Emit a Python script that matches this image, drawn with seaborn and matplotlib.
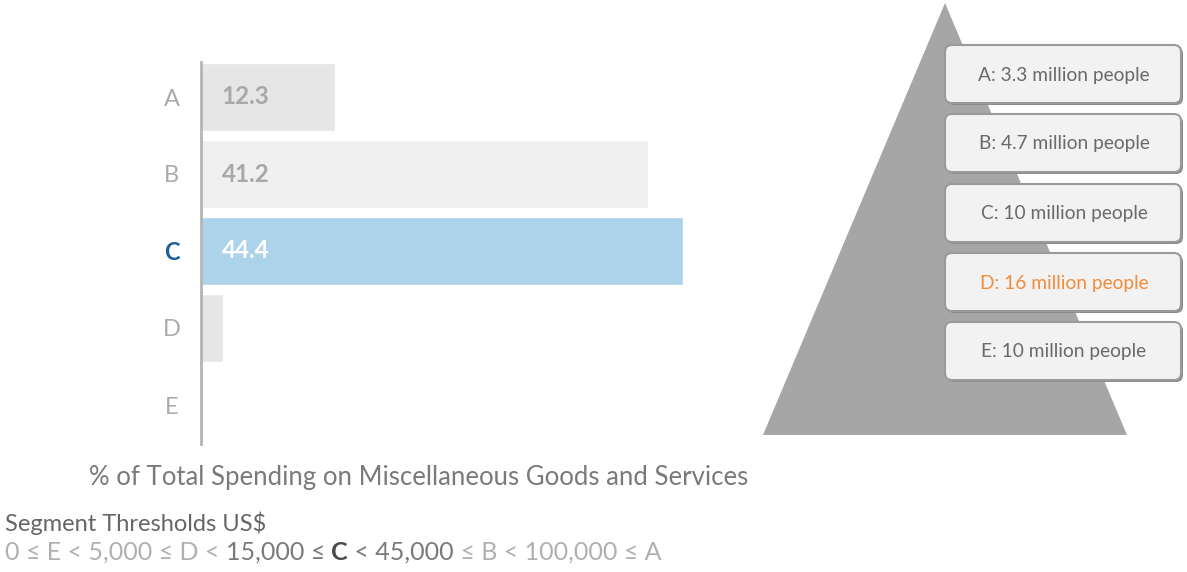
import matplotlib
matplotlib.use("Agg")
import matplotlib.pyplot as plt
import seaborn as sns
import pandas as pd
from matplotlib.patches import Polygon, FancyBboxPatch

# ---- data ----
segments = ["A", "B", "C", "D", "E"]
spending_pct = [12.3, 41.2, 44.4, 2.0, 0.0]
value_labels = ["12.3", "41.2", "44.4", "", ""]
population_m = ["3.3", "4.7", "10", "16", "10"]
highlight_segment = "C"
highlight_population = "D"
axis_title = "% of Total Spending on Miscellaneous Goods and Services"
threshold_title = "Segment Thresholds US$"

sns.set_theme(style="white")
plt.rcParams["font.family"] = ["Lato", "DejaVu Sans"]

bar_colors = ["#e6e6e6", "#f0f0f0", "#acd3ea", "#e6e6e6", "#ececec"]

fig = plt.figure(figsize=(11.87, 5.72), dpi=100)
W, H = 1187, 572

def fr(x0, y0, x1, y1):
    return [x0 / W, 1 - y1 / H, (x1 - x0) / W, (y1 - y0) / H]

# ---- bar chart ----
ax = fig.add_axes(fr(201, 58.5, 201 + 45 * 10.86, 443.5))
df = pd.DataFrame({"segment": segments, "pct": spending_pct})
sns.barplot(data=df, x="pct", y="segment", hue="segment", palette=bar_colors,
            legend=False, orient="h", width=0.88, ax=ax, saturation=1)
ax.set_xlim(0, 45)
ax.set_ylim(4.5, -0.5)
for s in ["top", "right", "bottom"]:
    ax.spines[s].set_visible(False)
ax.spines["left"].set_color("#b5b5b5")
ax.spines["left"].set_linewidth(2)
ax.spines["left"].set_bounds(-0.45, 4.5)
ax.set_xticks([])
ax.set_xlabel("")
ax.set_ylabel("")
ax.tick_params(axis="y", length=0, pad=21)
ax.set_yticks(range(len(segments)))
ax.set_yticklabels(segments)
for lbl in ax.get_yticklabels():
    if lbl.get_text() == highlight_segment:
        lbl.set_color("#1d5f96")
        lbl.set_fontweight("bold")
    else:
        lbl.set_color("#ababab")
        lbl.set_fontweight("normal")
    lbl.set_fontsize(17)
    lbl.set_horizontalalignment("center")

for i, (seg, txt) in enumerate(zip(segments, value_labels)):
    if txt:
        col = "white" if seg == highlight_segment else "#a8a8a8"
        ax.text(1.9, i, txt, va="center", ha="left", fontsize=17.5,
                fontweight="bold", color=col)

# ---- pyramid ----
pax = fig.add_axes([0, 0, 1, 1], zorder=-1)
pax.set_xlim(0, W)
pax.set_ylim(H, 0)
pax.axis("off")
pax.add_patch(Polygon([(945, 3), (763, 435), (1127, 435)], closed=True,
                      facecolor="#a6a6a6", edgecolor="none"))

box_tops = [45, 114, 184, 253, 322]
for seg, pop, top in zip(segments, population_m, box_tops):
    # shadow
    pax.add_patch(FancyBboxPatch((947, top + 2), 236, 58,
                                 boxstyle="round,pad=0,rounding_size=7",
                                 facecolor="#8c8c8c", edgecolor="none"))
    pax.add_patch(FancyBboxPatch((945, top), 236, 58,
                                 boxstyle="round,pad=0,rounding_size=7",
                                 facecolor="#f2f2f2", edgecolor="#9a9a9a",
                                 linewidth=1.5))
    col = "#f08c3c" if seg == highlight_population else "#6a6a6a"
    pax.text(1064, top + 30, f"{seg}: {pop} million people", ha="center",
             va="center", fontsize=13.8, color=col)

# ---- bottom texts ----
fig.text(419 / W, 1 - 477 / H, axis_title, ha="center", va="center",
         fontsize=18.5, color="#7a7a7a")
fig.text(5 / W, 1 - 523 / H, threshold_title, ha="left", va="center",
         fontsize=17, color="#666666")

pieces = [
    ("0 ≤ E < 5,000 ≤ D < ", "#b0b0b0", "normal"),
    ("15,000 ≤ ", "#7a7a7a", "normal"),
    ("C", "#4a4a4a", "bold"),
    (" < 45,000", "#7a7a7a", "normal"),
    (" ≤ B < 100,000 ≤ A", "#b0b0b0", "normal"),
]
fig.canvas.draw()
renderer = fig.canvas.get_renderer()
x = 5
for txt, col, wt in pieces:
    t = fig.text(x / W, 1 - 552 / H, txt, ha="left", va="center",
                 fontsize=18, color=col, fontweight=wt)
    bb = t.get_window_extent(renderer=renderer)
    x += bb.width

fig.savefig("out.png", dpi=100)
